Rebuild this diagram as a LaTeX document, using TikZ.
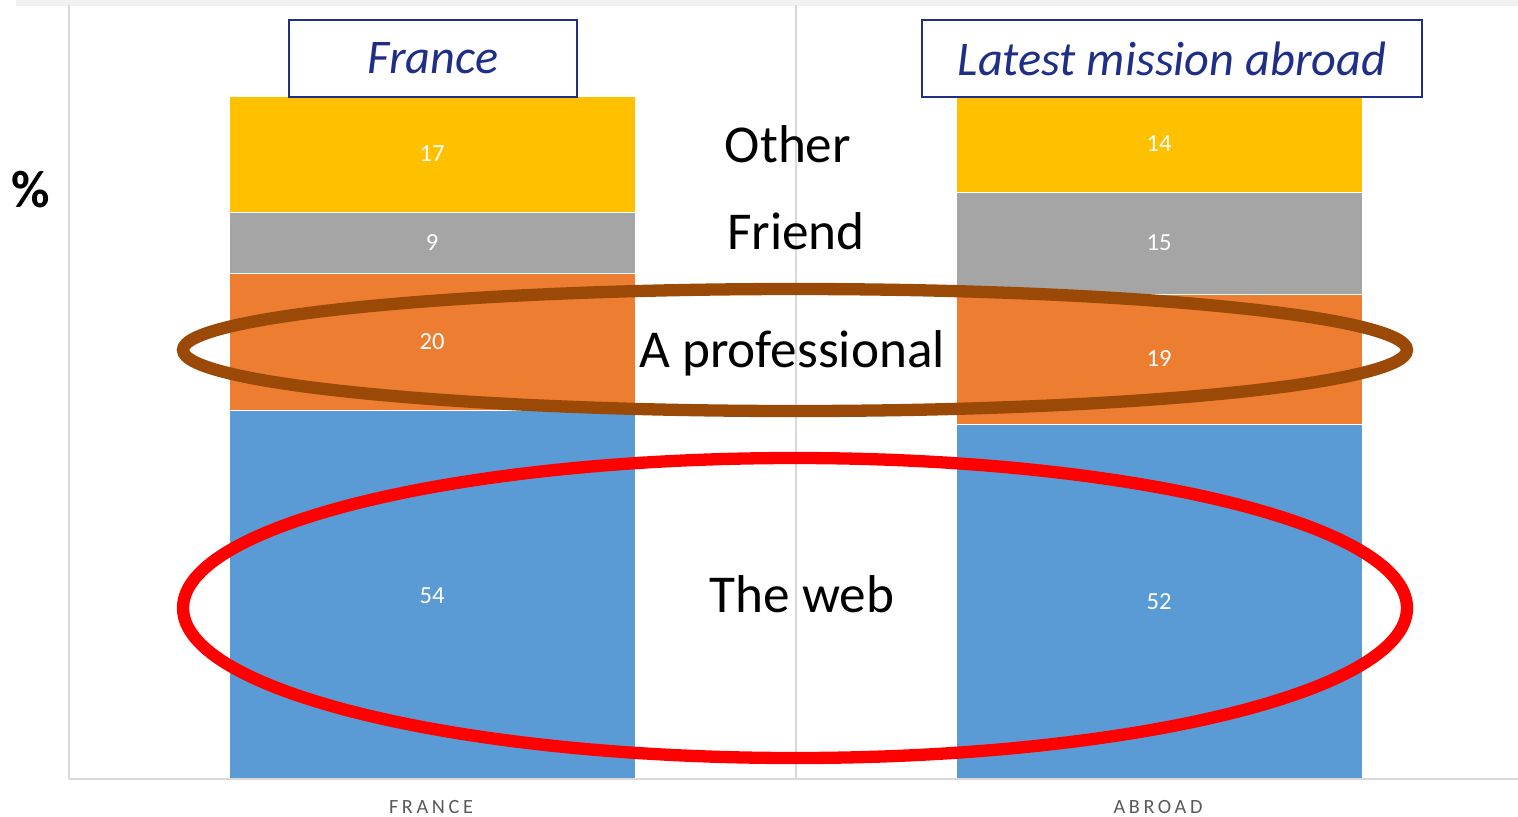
\documentclass[tikz,border=0pt]{standalone}
\usepackage{fontspec}
\setmainfont{Carlito}
\usetikzlibrary{calc}
\definecolor{segYellow}{HTML}{FFC000}
\definecolor{segGray}{HTML}{A5A5A5}
\definecolor{segOrange}{HTML}{ED7D31}
\definecolor{segBlue}{HTML}{5B9BD5}
\definecolor{ringBrown}{HTML}{9A4906}
\definecolor{titleBlue}{HTML}{1F2E86}
\definecolor{gridGray}{HTML}{D9D9D9}
\definecolor{tickGray}{HTML}{595959}

\begin{document}
\begin{tikzpicture}[x=0.02cm, y=-0.02cm,
		seg/.style={draw=white, line width=0.4pt},
		segnum/.style={text=white, font=\fontsize{14}{16}\selectfont},
		catlabel/.style={anchor=base, font=\fontsize{30.3}{35}\selectfont},
		titlebox/.style={draw=titleBlue, line width=0.9pt, fill=white, text=titleBlue,
			minimum height=1.54cm, inner sep=0pt, font=\fontsize{27.5}{32}\selectfont\itshape},
		ticklabel/.style={text=tickGray, font=\fontsize{11.5}{13}\selectfont\addfontfeatures{LetterSpace=18}}]
			%%%%% START %%%%%
			\useasboundingbox (0, 0) rectangle (1518, 816);
			
			\fill[black!5] (16, 0) rectangle (1518, 6);
			
			% France bar
			\draw[seg, fill=segBlue] (229, 410) rectangle (635, 779);
			\draw[seg, fill=segOrange] (229, 273) rectangle (635, 410);
			\draw[seg, fill=segGray] (229, 212) rectangle (635, 273);
			\draw[seg, fill=segYellow] (229, 96) rectangle (635, 212);
			
			% Abroad bar
			\draw[seg, fill=segBlue] (956, 424) rectangle (1362, 779);
			\draw[seg, fill=segOrange] (956, 294) rectangle (1362, 424);
			\draw[seg, fill=segGray] (956, 192) rectangle (1362, 294);
			\draw[seg, fill=segYellow] (956, 96) rectangle (1362, 192);
			
			\draw[gridGray, line width=0.8pt] (69, 5) -- (69, 779);
			\draw[gridGray, line width=0.8pt] (796, 5) -- (796, 779);
			\draw[gridGray, line width=1.2pt] (69, 779) -- (1518, 779);
			
			\node[segnum] (fr17) at (432, 154) {17};
			\node[segnum] (fr9) at (432, 243) {9};
			\node[segnum] (fr20) at (432, 342) {20};
			\node[segnum] (fr54) at (432, 596) {54};
			\node[segnum] (ab14) at (1159, 144) {14};
			\node[segnum] (ab15) at (1159, 243) {15};
			\node[segnum] (ab19) at (1159, 359) {19};
			\node[segnum] (ab52) at (1159, 602) {52};
			
			\node[catlabel] (other) at (788, 162) {Other};
			\node[catlabel] (friend) at (796, 249) {Friend};
			\node[catlabel] (professional) at (792, 367) {A professional};
			\node[catlabel] (web) at (802, 612) {The web};
			
			\node[titlebox, minimum width=5.76cm] (titleFrance) at (433, 58.5) {France};
			\node[titlebox, minimum width=10cm] (titleAbroad) at (1172, 58.5) {Latest mission abroad};
			
			\node[font=\fontsize{30}{34}\selectfont\bfseries] (percent) at (31, 190) {\%};
			
			\node[ticklabel] (tickFrance) at (431, 807) {FRANCE};
			\node[ticklabel] (tickAbroad) at (1158, 807) {ABROAD};
			
			\draw[ringBrown, line width=7pt] (795, 350) ellipse [x radius=612, y radius=61];
			\draw[red, line width=7pt] (795, 608) ellipse [x radius=612, y radius=150];
			
			%%%%% END %%%%%
\end{tikzpicture}
\end{document}
